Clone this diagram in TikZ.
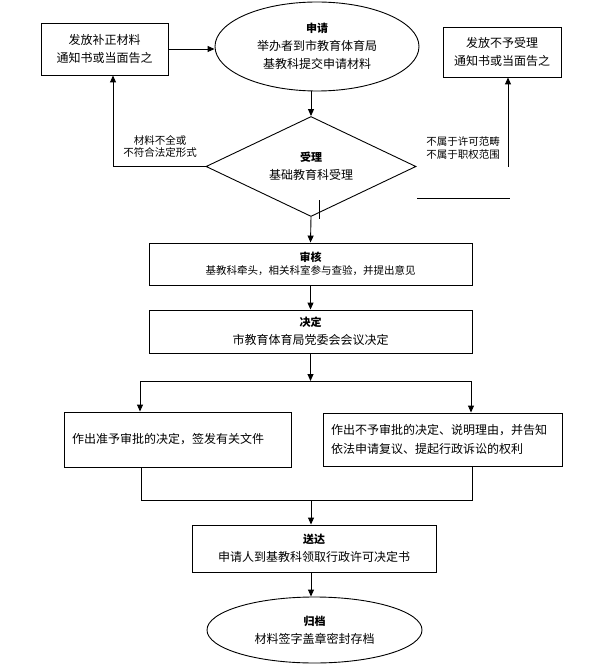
\documentclass[tikz,border=0pt]{standalone}
\usepackage{fontspec}
\setmainfont{Noto Sans CJK SC}
\usepackage{tikz}
\usetikzlibrary{shapes.geometric}
\usetikzlibrary{arrows.meta}
\tikzset{box/.style={draw=black,line width=0.9pt,align=center,inner sep=0pt},
 oval/.style={draw=black,line width=0.9pt,ellipse,align=center,inner sep=0pt},
 decision/.style={draw=black,line width=0.9pt,diamond,aspect=2.1,align=center,inner sep=0pt},
 arrow/.style={line width=0.9pt,-{Triangle[length=7pt,width=6pt]}},
 line/.style={line width=0.9pt},
 big/.style={font=\fontsize{12}{18}\selectfont},
 small/.style={font=\fontsize{10.5}{12.5}\selectfont},
 }
\newcommand{\ttl}[1]{{\fontsize{11}{16}\selectfont\bfseries #1}}

\begin{document}
\begin{tikzpicture}[x=1pt,y=-1pt]
        \useasboundingbox (0,0) rectangle (594,671);

        \node[oval,big,minimum width=204pt,minimum height=89pt] (sq) at (317,46.5)
          {\ttl{申请}\\举办者到市教育体育局\\基教科提交申请材料};
        \node[box,big,minimum width=127pt,minimum height=52pt] (bz) at (104.5,49)
          {发放补正材料\\通知书或当面告之};
        \node[box,big,minimum width=118pt,minimum height=50pt] (by) at (502,52)
          {发放不予受理\\通知书或当面告之};
        \node[decision,big,minimum width=210pt,minimum height=100pt] (sl) at (311,166.5)
          {\ttl{受理}\\基础教育科受理};
        \node[small,align=center] (bq) at (160,146.5) {材料不全或\\不符合法定形式};
        \node[small,align=center] (bs) at (463,148) {不属于许可范畴\\不属于职权范围};

        \node[box,small,minimum width=323pt,minimum height=42pt] (sh) at (310.5,264)
          {\ttl{审核}\\[1pt]基教科牵头，相关科室参与查验，并提出意见};
        \node[box,big,minimum width=323pt,minimum height=43pt] (jd) at (310.5,331.5)
          {\ttl{决定}\\市教育体育局党委会会议决定};

        \node[box,big,minimum width=227pt,minimum height=55pt,text width=211pt,align=left] (zy) at (177.5,439.5)
          {作出准予审批的决定，签发有关文件};
        \node[box,big,minimum width=239pt,minimum height=53pt,text width=223pt,align=left,font=\fontsize{12}{19}\selectfont] (bp) at (442.5,439.5)
          {作出不予审批的决定、说明理由，并告知\\依法申请复议、提起行政诉讼的权利\\[-4pt]};

        \node[box,big,minimum width=244pt,minimum height=47pt] (sd) at (314,548.5)
          {\ttl{送达}\\申请人到基教科领取行政许可决定书};
        \node[oval,big,minimum width=215pt,minimum height=66pt] (gd) at (314.5,630)
          {\ttl{归档}\\材料签字盖章密封存档};

        % top part
        \coordinate (lt) at (113,166.5);
        \coordinate (rt) at (508,167);
        \coordinate (hl) at (417,198);
        \coordinate (hr) at (510,198);
        \coordinate (tk) at (319,200);
        \draw[arrow] (bz.east) -- (bz.east -| sq.west);
        \draw[arrow] (sl.north |- sq.south) -- (sl.north);
        \draw[arrow] (sl.west) -- (lt) -- (lt |- bz.south);
        \draw[arrow] (rt) -- (rt |- by.south);
        \draw[line] (hl) -- (hr);
        \draw[line] (tk) -- ++(0,19);

        \draw[arrow] (sl.south) -- (sh.north);
        \draw[arrow] (sh.south) -- (jd.north);

        % split and join
        \coordinate (fz) at (310.5,381);
        \coordinate (fl) at (140,381);
        \coordinate (fr) at (471,381);
        \draw[arrow] (jd.south) -- (fz);
        \draw[line] (fl) -- (fr);
        \draw[arrow] (fl) -- (fl |- zy.north);
        \draw[arrow] (fr) -- (fr |- bp.north);

        \coordinate (hm) at (311,500);
        \coordinate (jl) at (141,500);
        \coordinate (jr) at (472,500);
        \draw[line] (jl |- zy.south) -- (jl) -- (jr) -- (jr |- bp.south);
        \draw[arrow] (hm) -- (hm |- sd.north);
        \draw[arrow] (hm |- sd.south) -- (hm |- gd.north);
    \end{tikzpicture}
\end{document}
